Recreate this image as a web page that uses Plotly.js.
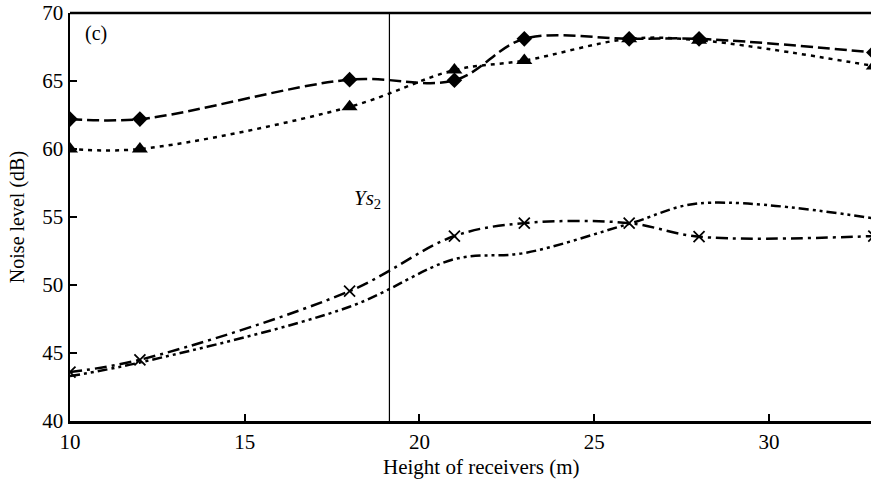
<!DOCTYPE html>
<html>
<head>
<meta charset="utf-8">
<script src="https://cdn.plot.ly/plotly-3.0.1.min.js"></script>
<style>html,body{margin:0;padding:0;background:#fff;}#chart{width:872px;height:487px;}</style>
</head>
<body>
<div id="chart"></div>
<script>
var heights = [10, 12, 18, 21, 23, 26, 28, 33];
var seriesDiamond = [62.2, 62.2, 65.1, 65.05, 68.1, 68.1, 68.1, 67.1];
var seriesTriangle = [60.0, 60.0, 63.1, 65.8, 66.5, 68.1, 68.0, 66.1];
var seriesCross = [43.6, 44.5, 49.55, 53.6, 54.55, 54.55, 53.55, 53.6];
var seriesPlain = [43.3, 44.3, 48.4, 51.9, 52.35, 54.5, 56.0, 54.9];
var xTicks = [10, 15, 20, 25, 30];
var yTicks = [40, 45, 50, 55, 60, 65, 70];
var ysLine = 19.14;

var serif = "'Liberation Serif', 'Times New Roman', serif";
var traces = [
  {x: heights, y: seriesDiamond, mode: 'lines+markers', line: {color: '#000', width: 2.5, dash: '12px,5px', shape: 'spline', smoothing: 1},
   marker: {symbol: 'diamond', size: 12, color: '#000'}},
  {x: heights, y: seriesTriangle, mode: 'lines+markers', line: {color: '#000', width: 2.5, dash: '4px,5px', shape: 'spline', smoothing: 1},
   marker: {symbol: 'triangle-up', size: 14, color: '#000'}},
  {x: heights, y: seriesCross, mode: 'lines+markers', line: {color: '#000', width: 2.5, dash: '12px,5px,3px,5px', shape: 'spline', smoothing: 1},
   marker: {symbol: 'x-thin-open', size: 11, color: '#000', line: {width: 1.8, color: '#000'}}},
  {x: heights, y: seriesPlain, mode: 'lines', line: {color: '#000', width: 2.5, dash: '10px,4px,3px,4px,3px,4px', shape: 'spline', smoothing: 1}}
];

var layout = {
  width: 872, height: 487,
  margin: {l: 70, r: 1, t: 13, b: 66},
  paper_bgcolor: '#fff', plot_bgcolor: '#fff',
  showlegend: false,
  font: {family: serif, color: '#000', size: 21},
  xaxis: {range: [10, 32.92], tickvals: xTicks, ticktext: xTicks.map(String), ticks: 'inside', ticklen: 7, tickwidth: 2, tickcolor: '#000',
          showgrid: false, zeroline: false, showline: true, linecolor: '#000', linewidth: 2.5, tickfont: {family: serif, size: 21}},
  yaxis: {range: [40, 70], tickvals: yTicks, ticktext: yTicks.map(String), ticks: 'inside', ticklen: 7, tickwidth: 2, tickcolor: '#000',
          showgrid: false, zeroline: false, showline: true, linecolor: '#000', linewidth: 2.5, tickfont: {family: serif, size: 21}},
  shapes: [
    {type: 'line', xref: 'x', yref: 'paper', x0: ysLine, x1: ysLine, y0: 0, y1: 1, line: {color: '#000', width: 1.2}},
    {type: 'line', xref: 'paper', yref: 'paper', x0: 0, x1: 1, y0: 1, y1: 1, line: {color: '#000', width: 2.5}}
  ],
  annotations: [
    {text: '(c)', xref: 'paper', yref: 'paper', x: 0.016, y: 0.95, xanchor: 'left', yanchor: 'middle', showarrow: false, font: {family: serif, size: 20}},
    {text: '<i>Ys</i><sub>2</sub>', xref: 'x', yref: 'y', x: 18.95, y: 56.3, xanchor: 'right', yanchor: 'middle', showarrow: false, font: {family: serif, size: 21}},
    {text: 'Height of receivers (m)', xref: 'paper', yref: 'paper', x: 0.514, y: -0.113, xanchor: 'center', yanchor: 'middle', showarrow: false, font: {family: serif, size: 21}},
    {text: 'Noise level (dB)', xref: 'paper', yref: 'paper', x: -0.066, y: 0.5, xanchor: 'center', yanchor: 'middle', textangle: -90, showarrow: false, font: {family: serif, size: 20}}
  ]
};
Plotly.newPlot('chart', traces, layout, {displayModeBar: false, staticPlot: true});
</script>
</body>
</html>
